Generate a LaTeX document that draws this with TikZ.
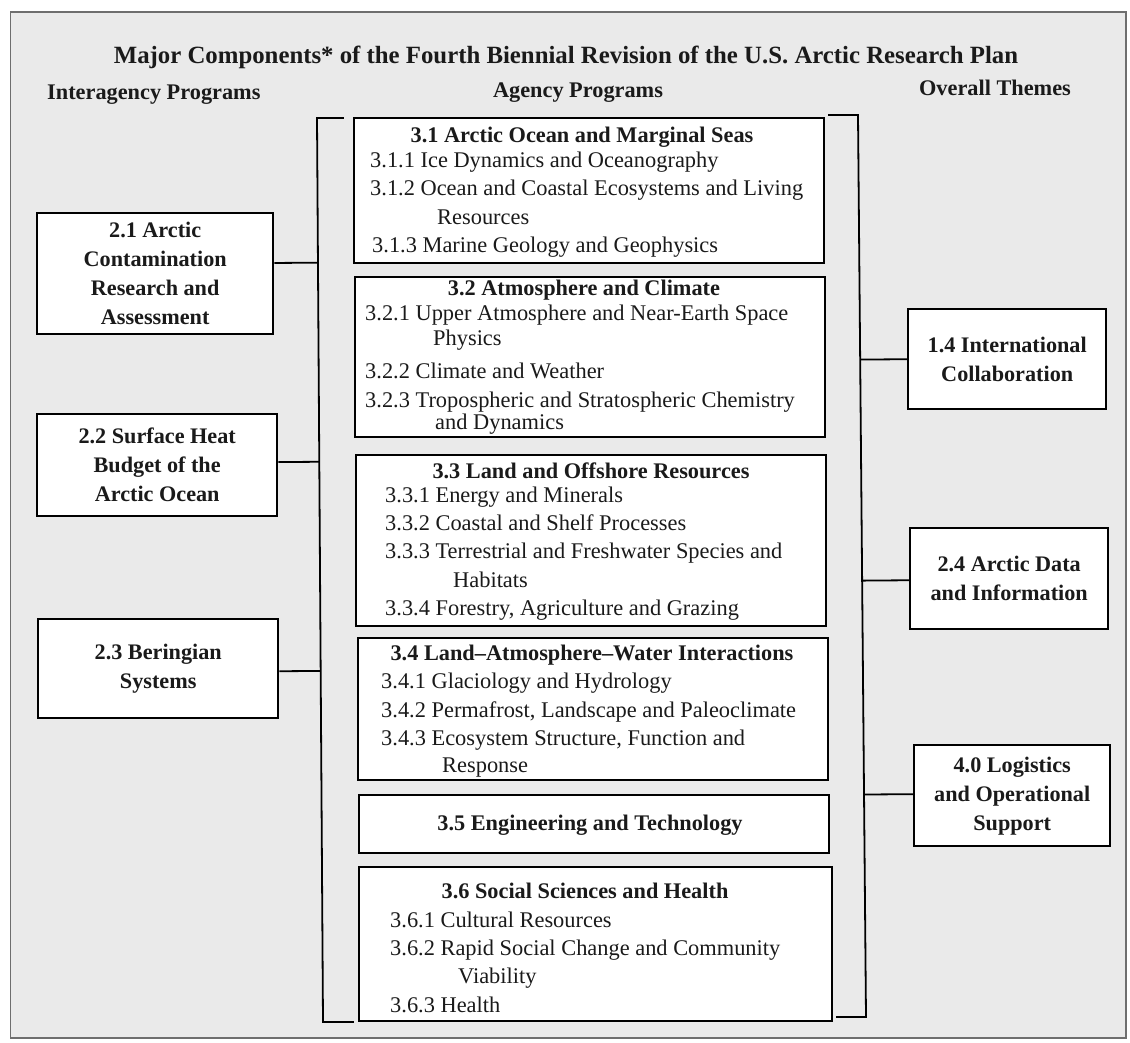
\documentclass[tikz,border=0pt]{standalone}
\usepackage{fontspec}
\setmainfont{Liberation Serif}
\usetikzlibrary{calc}
\definecolor{bgray}{HTML}{EAEAEA}
\definecolor{framec}{HTML}{6E6E6E}
\definecolor{ink}{HTML}{1A1A1A}
\begin{document}
\begin{tikzpicture}[x=1pt,y=-1pt,
  pbox/.style={draw=black, line width=2.4pt, fill=white, inner sep=0pt, anchor=north west},
  sidebox/.style={pbox, align=center, text=ink, font=\fontsize{22.2}{29}\selectfont\bfseries},
  ln/.style={anchor=base west, inner sep=0pt, text=ink, font=\fontsize{22.4}{28}\selectfont},
  hd/.style={anchor=base, inner sep=0pt, text=ink, font=\fontsize{22.3}{28}\selectfont\bfseries},
  conn/.style={draw=black, line width=1.8pt},
  brk/.style={draw=black, line width=1.8pt, line cap=rect}]
% canvas and frame
\useasboundingbox (0,0) rectangle (1130,1042);
\fill[white] (0,0) rectangle (1130,1042);
\draw[framec, line width=1.5pt, fill=bgray] (10.5,12) rectangle (1126,1038);

% title and column headings
\node[hd, font=\fontsize{24.8}{30}\selectfont\bfseries] (title) at (566,63)
  {Major Components* of the Fourth Biennial Revision of the U.S. Arctic Research Plan};
\node[hd, anchor=base west] (hInter) at (47,99) {Interagency Programs};
\node[hd] (hAgency) at (578,97) {Agency Programs};
\node[hd] (hThemes) at (995,95) {Overall Themes};

% brackets
\coordinate (lbt) at (317,118);
\coordinate (lbb) at (323,1022);
\coordinate (lbts) at (343,118);
\coordinate (lbbs) at (353,1022);
\coordinate (rbt) at (858,115);
\coordinate (rbb) at (866,1017);
\coordinate (rbts) at (829,115);
\coordinate (rbbs) at (837,1017);
\draw[brk] (lbts) -- (lbt) -- (lbb) -- (lbbs);
\draw[brk] (rbts) -- (rbt) -- (rbb) -- (rbbs);

% agency boxes
\node[pbox, minimum width=470pt, minimum height=145pt] (b31) at (353,117) {};
\node[pbox, minimum width=470pt, minimum height=160pt] (b32) at (354,276) {};
\node[pbox, minimum width=470pt, minimum height=171pt] (b33) at (355,454) {};
\node[pbox, minimum width=470pt, minimum height=142pt] (b34) at (357,637) {};
\node[pbox, minimum width=470pt, minimum height=58pt]  (b35) at (358,794) {};
\node[pbox, minimum width=473pt, minimum height=154pt] (b36) at (358,866) {};

% 3.1
\node[hd] (t31) at (582,142) {3.1 Arctic Ocean and Marginal Seas};
\node[ln] (t311) at (370,167) {3.1.1 Ice Dynamics and Oceanography};
\node[ln] (t312) at (370,195) {3.1.2 Ocean and Coastal Ecosystems and Living};
\node[ln] (t312b) at (437,224) {Resources};
\node[ln] (t313) at (372,252) {3.1.3 Marine Geology and Geophysics};
% 3.2
\node[hd] (t32) at (584,295) {3.2 Atmosphere and Climate};
\node[ln] (t321) at (365,320) {3.2.1 Upper Atmosphere and Near-Earth Space};
\node[ln] (t321b) at (433,345) {Physics};
\node[ln] (t322) at (365,378) {3.2.2 Climate and Weather};
\node[ln] (t323) at (365,407) {3.2.3 Tropospheric and Stratospheric Chemistry};
\node[ln] (t323b) at (435,429) {and Dynamics};
% 3.3
\node[hd] (t33) at (591,478) {3.3 Land and Offshore Resources};
\node[ln] (t331) at (385,502) {3.3.1 Energy and Minerals};
\node[ln] (t332) at (385,530) {3.3.2 Coastal and Shelf Processes};
\node[ln] (t333) at (385,558) {3.3.3 Terrestrial and Freshwater Species and};
\node[ln] (t333b) at (453,587) {Habitats};
\node[ln] (t334) at (385,615) {3.3.4 Forestry, Agriculture and Grazing};
% 3.4
\node[hd] (t34) at (592,660) {3.4 Land–Atmosphere–Water Interactions};
\node[ln] (t341) at (381,688) {3.4.1 Glaciology and Hydrology};
\node[ln] (t342) at (381,717) {3.4.2 Permafrost, Landscape and Paleoclimate};
\node[ln] (t343) at (381,745) {3.4.3 Ecosystem Structure, Function and};
\node[ln] (t343b) at (442,772) {Response};
% 3.5
\node[hd] (t35) at (590,830) {3.5 Engineering and Technology};
% 3.6
\node[hd] (t36) at (585,898) {3.6 Social Sciences and Health};
\node[ln] (t361) at (390,927) {3.6.1 Cultural Resources};
\node[ln] (t362) at (390,955) {3.6.2 Rapid Social Change and Community};
\node[ln] (t362b) at (458,983) {Viability};
\node[ln] (t363) at (390,1012) {3.6.3 Health};

% interagency boxes
\node[sidebox, minimum width=236pt, minimum height=121pt] (b21) at (36,212)
  {2.1 Arctic\\Contamination\\Research and\\Assessment};
\node[sidebox, minimum width=240pt, minimum height=102pt] (b22) at (36,413)
  {2.2 Surface Heat\\Budget of the\\Arctic Ocean};
\node[sidebox, minimum width=240pt, minimum height=99pt] (b23) at (37,618)
  {2.3 Beringian\\Systems};

% theme boxes
\node[sidebox, minimum width=198pt, minimum height=100pt] (b14) at (907,308)
  {1.4 International\\Collaboration};
\node[sidebox, minimum width=198pt, minimum height=101pt] (b24) at (909,527)
  {2.4 Arctic Data\\and Information};
\node[sidebox, minimum width=196pt, minimum height=101pt] (b40) at (913,744)
  {4.0 Logistics\\and Operational\\Support};

% connectors
\coordinate (c21) at ($(b21.north east)!0.413!(b21.south east)$);
\coordinate (c22) at ($(b22.north east)!0.47!(b22.south east)$);
\coordinate (c23) at ($(b23.north east)!0.525!(b23.south east)$);
\coordinate (c14) at ($(b14.north west)!0.5!(b14.south west)$);
\coordinate (c24) at ($(b24.north west)!0.515!(b24.south west)$);
\coordinate (c40) at ($(b40.north west)!0.485!(b40.south west)$);
\draw[conn] (c21) -- ($(lbt)!(c21)!(lbb)$);
\draw[conn] (c22) -- ($(lbt)!(c22)!(lbb)$);
\draw[conn] (c23) -- ($(lbt)!(c23)!(lbb)$);
\draw[conn] ($(rbt)!(c14)!(rbb)$) -- (c14);
\draw[conn] ($(rbt)!(c24)!(rbb)$) -- (c24);
\draw[conn] ($(rbt)!(c40)!(rbb)$) -- (c40);
\end{tikzpicture}
\end{document}
